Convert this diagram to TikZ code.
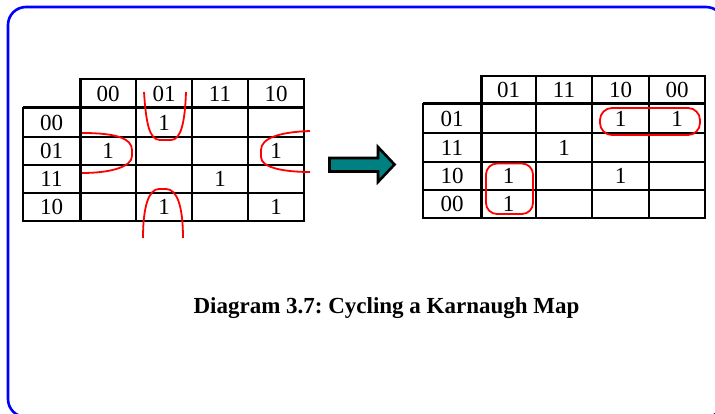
\documentclass[tikz,border=0pt]{standalone}
\usepackage{fontspec}
\setmainfont{Liberation Serif}
\frenchspacing
\definecolor{arrowteal}{RGB}{0,128,128}
\begin{document}
\begin{tikzpicture}[x=1pt,y=-1pt,
  thin grid/.style={line width=1.3pt, line cap=rect},
  thin grid right/.style={line width=1.6pt, line cap=rect},
  thick grid/.style={line width=3pt},
  cell/.style={inner sep=0pt, font=\fontsize{23}{23}\selectfont},
  loop/.style={red, line width=1.8pt},
  frame/.style={blue, line width=2.6pt, rounded corners=18pt},
  blockarrow/.style={fill=arrowteal, draw=black, line width=2.6pt, line join=miter},
  caption/.style={inner sep=0pt, anchor=base, font=\fontsize{23}{23}\selectfont\bfseries}
]
\useasboundingbox (0,0) rectangle (715,414);

% outer frame
\draw[frame] (8,7) rectangle (724,417);

% ---------- left map: rows/columns in Gray order 00 01 11 10 ----------
\draw[thin grid] (80,79) -- (304,79);
\foreach \y in {137,165,193,221} \draw[thin grid] (23,\y) -- (304,\y);
\draw[thin grid] (23,108) -- (23,221);
\foreach \x in {136,192,248,304} \draw[thin grid] (\x,79) -- (\x,221);
\draw[thick grid] (23,108) -- (304,108);
\draw[thick grid] (80,79) -- (80,221);

\foreach \t/\x [count=\i] in {00/108,01/164,11/220,10/276}
  \node[cell] (lcol\i) at (\x,93.5) {\t};
\foreach \t/\y [count=\i] in {00/122.5,01/151,11/179,10/207}
  \node[cell] (lrow\i) at (51.5,\y) {\t};
\foreach \x/\y [count=\i] in {164/122.5,108/151,276/151,220/179,164/207,276/207}
  \node[cell] (lone\i) at (\x,\y) {1};

% wrap-around groupings
\draw[loop] (144,92) .. controls (146,122) and (149,140) .. (160,140)
  -- (171,140) .. controls (181,140) and (185,122) .. (186,92);
\draw[loop] (143,238) .. controls (143,206) and (149,189) .. (159,189)
  -- (166,189) .. controls (177,189) and (183,206) .. (183,238);
\draw[loop] (82,133) .. controls (115,133) and (132,138) .. (132,150)
  -- (132,156) .. controls (132,167) and (110,173) .. (82,173);
\draw[loop] (310,131) .. controls (280,132) and (261,138) .. (261,150)
  -- (261,157) .. controls (261,168) and (285,172) .. (310,172);

% ---------- block arrow ----------
\draw[blockarrow] (329.5,158) -- (378,158) -- (378,147) -- (394.5,164.5)
  -- (378,182) -- (378,171.5) -- (329.5,171.5) -- cycle;

% ---------- right map: cycled order 01 11 10 00 ----------
\draw[thin grid right] (481,76) -- (705,76);
\foreach \y in {133,162,190,218} \draw[thin grid right] (423,\y) -- (705,\y);
\draw[thin grid right] (423,104) -- (423,218);
\foreach \x in {536,592,705} \draw[thin grid right] (\x,76) -- (\x,218);
\draw[line width=2.1pt] (649,76) -- (649,218);
\draw[thick grid] (423,104) -- (705,104);
\draw[thick grid] (481,76) -- (481,218);

\foreach \t/\x [count=\i] in {01/508.5,11/564,10/620.5,00/677}
  \node[cell] (rcol\i) at (\x,90) {\t};
\foreach \t/\y [count=\i] in {01/118.5,11/147.5,10/176,00/204}
  \node[cell] (rrow\i) at (452,\y) {\t};
\foreach \x/\y [count=\i] in {620.5/118.5,677/118.5,564/147.5,508.5/176,620.5/176,508.5/204}
  \node[cell] (rone\i) at (\x,\y) {1};

% groupings on the cycled map
\draw[loop, rounded corners=12pt] (600,108) rectangle (700,135);
\draw[loop, rounded corners=11pt] (486,163.5) rectangle (533,214);

% caption
\node[caption] (title) at (386.5,313) {Diagram 3.7: Cycling a Karnaugh Map};
\end{tikzpicture}
\end{document}
